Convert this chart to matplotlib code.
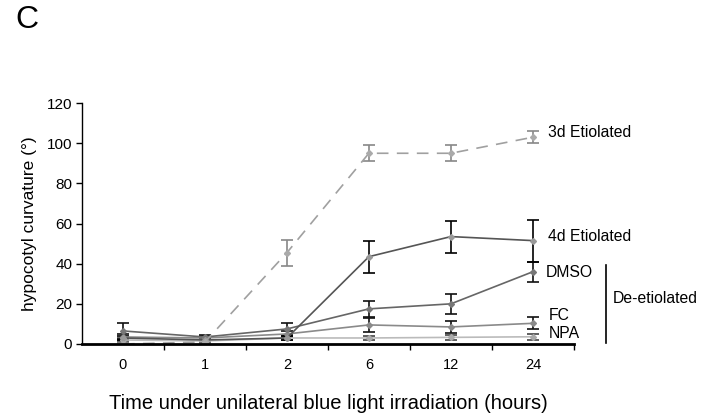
import matplotlib
matplotlib.use('Agg')
import matplotlib.pyplot as plt

plt.rcParams['font.family'] = ['Liberation Sans', 'DejaVu Sans']

hours = ['0', '1', '2', '6', '12', '24']

etio3_mean = [0, 1, 45.5, 95, 95, 103]
etio3_err = [0.5, 0.5, 6.5, 4, 4, 3]
etio4_mean = [3, 2, 3, 43.5, 53.5, 51.5]
etio4_err = [1, 1, 1, 8, 8, 10.5]
dmso_mean = [6.5, 3.5, 7.5, 17.5, 20, 36]
dmso_err = [3.8, 1.2, 3.2, 4, 5, 5]
fc_mean = [3.5, 3, 5, 9.5, 8.5, 10.3]
fc_err = [1.5, 1, 1.5, 3.5, 3, 3]
npa_mean = [2, 1.5, 3, 3, 3.3, 3.6]
npa_err = [1, 1, 1, 1.2, 1.2, 1.5]

fig = plt.figure(figsize=(7.16, 4.19), dpi=100)
ax = fig.add_axes([0.1145, 0.179, 0.687, 0.575])
x = list(range(len(hours)))

# light series first, darker ones on top
ax.errorbar(x, npa_mean, yerr=npa_err, color='#bbbbbb', ecolor='#444444',
            lw=1.2, elinewidth=1.2, capsize=4, capthick=1.2,
            marker='D', ms=3, mfc='#aaaaaa', mec='#aaaaaa')
ax.errorbar(x, fc_mean, yerr=fc_err, color='#8a8a8a', ecolor='#111111',
            lw=1.2, elinewidth=1.2, capsize=4, capthick=1.2,
            marker='D', ms=3, mfc='#8a8a8a', mec='#8a8a8a')
ax.errorbar(x, dmso_mean, yerr=dmso_err, color='#666666', ecolor='#111111',
            lw=1.2, elinewidth=1.2, capsize=4, capthick=1.2,
            marker='D', ms=3, mfc='#777777', mec='#777777')
ax.errorbar(x, etio4_mean, yerr=etio4_err, color='#555555', ecolor='#000000',
            lw=1.2, elinewidth=1.2, capsize=4, capthick=1.2,
            marker='D', ms=3, mfc='#999999', mec='#999999')
ax.errorbar(x, etio3_mean, yerr=etio3_err, color='#a0a0a0', ecolor='#888888',
            lw=1.2, ls=(0, (7, 5)), elinewidth=1.2, capsize=4, capthick=1.2,
            marker='D', ms=3, mfc='#aaaaaa', mec='#aaaaaa')

ax.set_xlim(-0.5, 5.5)
ax.set_ylim(0, 120)
ax.set_yticks(range(0, 121, 20))
ax.set_xticks(x)
ax.set_xticklabels(hours)
ax.set_xticks([i + 0.5 for i in x], minor=True)
ax.tick_params(axis='x', which='major', length=0, pad=10, labelsize=10.5)
ax.tick_params(axis='x', which='minor', length=4, width=1, direction='out')
ax.tick_params(axis='y', length=4, width=1, direction='out', labelsize=11, pad=3)

for s in ['top', 'right']:
    ax.spines[s].set_visible(False)
ax.spines['bottom'].set_linewidth(2)
ax.spines['left'].set_linewidth(1)

ax.set_ylabel('hypocotyl curvature (°)', fontsize=12.5, labelpad=7)
ax.set_xlabel('Time under unilateral blue light irradiation (hours)',
              fontsize=14.5, labelpad=16)

# series labels at the right end
lab_kw = dict(fontsize=11.3, va='center', ha='left', clip_on=False)
ax.text(5.18, 105.2, '3d Etiolated', **lab_kw)
ax.text(5.18, 53.4, '4d Etiolated', **lab_kw)
ax.text(5.16, 35.4, 'DMSO', **lab_kw)
ax.text(5.19, 14.4, 'FC', **lab_kw)
ax.text(5.19, 5, 'NPA', **lab_kw)
ax.plot([5.89, 5.89], [0.5, 39.3], color='black', lw=1.2, clip_on=False)
ax.text(5.98, 22.5, 'De-etiolated', **lab_kw)

fig.text(0.021, 0.952, 'C', fontsize=23, va='center', ha='left')

fig.savefig('out.png', dpi=100)
